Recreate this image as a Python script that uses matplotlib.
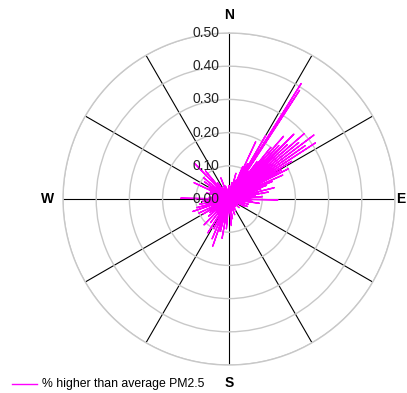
import numpy as np
import matplotlib
matplotlib.use("Agg")
import matplotlib.pyplot as plt

plt.rcParams['font.family'] = ['Liberation Sans', 'DejaVu Sans']

# directions (degrees clockwise from north) and % higher than average PM2.5
directions = [0, 10, 15, 20, 23, 25, 28, 30, 32, 33, 35, 37, 39, 41, 43, 45, 47, 49,
              51, 53, 55, 57, 59, 61, 63, 66, 68, 70, 72, 76, 78, 80, 83, 86, 88,
              91, 93, 96, 98, 100, 105, 112, 115, 120, 130, 140, 150, 160, 170,
              175, 180, 185, 190, 195, 197, 199, 203, 207, 212, 218, 224, 230,
              235, 240, 245, 251, 255, 260, 265, 271, 275, 280, 285, 290, 295,
              300, 305, 310, 316, 320, 325, 330, 339, 345, 350]
values = [0.04, 0.05, 0.08, 0.06, 0.106, 0.19, 0.12, 0.22, 0.41, 0.39, 0.10, 0.14,
          0.20, 0.25, 0.22, 0.276, 0.24, 0.30, 0.27, 0.32, 0.28, 0.31, 0.22, 0.18,
          0.20, 0.177, 0.14, 0.12, 0.10, 0.14, 0.09, 0.12, 0.08, 0.10, 0.06,
          0.147, 0.05, 0.07, 0.092, 0.04, 0.06, 0.06, 0.05, 0.03, 0.04, 0.03,
          0.04, 0.05, 0.06, 0.08, 0.04, 0.09, 0.12, 0.10, 0.10, 0.15, 0.13,
          0.10, 0.12, 0.09, 0.108, 0.08, 0.07, 0.09, 0.10, 0.115, 0.10, 0.09,
          0.08, 0.145, 0.06, 0.05, 0.07, 0.06, 0.116, 0.07, 0.09, 0.10, 0.15,
          0.11, 0.06, 0.04, 0.068, 0.04, 0.03]

ring_values = [0.0, 0.1, 0.2, 0.3, 0.4, 0.5]
ring_labels = ["0.00", "0.10", "0.20", "0.30", "0.40", "0.50"]
compass = ["N", "E", "S", "W"]

fig = plt.figure(figsize=(4.07, 3.93), dpi=100)
ax = fig.add_axes([0.1548, 0.0712, 0.8157, 0.8448], projection='polar')
ax.set_theta_zero_location('N')
ax.set_theta_direction(-1)
ax.set_ylim(0, 0.5)

ax.set_thetagrids(range(0, 360, 30), labels=[''] * 12)
ax.set_yticks(ring_values[1:])
ax.set_yticklabels([])
ax.xaxis.grid(True, color='black', linewidth=0.8)
ax.yaxis.grid(True, color='#c8c8c8', linewidth=1.0)
ax.spines['polar'].set_color('#c8c8c8')
ax.spines['polar'].set_linewidth(1.0)

# spikes from the centre to each value
th = []
rr = []
for d, v in zip(directions, values):
    t = np.deg2rad(d)
    th += [t, t]
    rr += [0, v]
th.append(th[0])
rr.append(0)
ax.plot(th, rr, color='#ff00ff', linewidth=1.0)

# radial labels along the north spoke
for r, lab in zip(ring_values, ring_labels):
    ax.annotate(lab, xy=(0, r), xytext=(-7, 0), textcoords='offset points',
                ha='right', va='center', fontsize=10, color='#222222')

ax.text(0.5, 1.055, compass[0], transform=ax.transAxes, ha='center', va='center',
        fontsize=10, fontweight='bold')
ax.text(1.018, 0.5, compass[1], transform=ax.transAxes, ha='center', va='center',
        fontsize=10, fontweight='bold')
ax.text(0.5, -0.054, compass[2], transform=ax.transAxes, ha='center', va='center',
        fontsize=10, fontweight='bold')
ax.text(-0.048, 0.5, compass[3], transform=ax.transAxes, ha='center', va='center',
        fontsize=10, fontweight='bold')

# legend
fig.add_artist(plt.Line2D([12 / 407, 37 / 407], [1 - 383.5 / 393] * 2,
                          color='#ff00ff', linewidth=1.0))
fig.text(42 / 407, 1 - 383.5 / 393, "% higher than average PM2.5",
         ha='left', va='center', fontsize=8.8)

fig.savefig("out.png", dpi=100)
